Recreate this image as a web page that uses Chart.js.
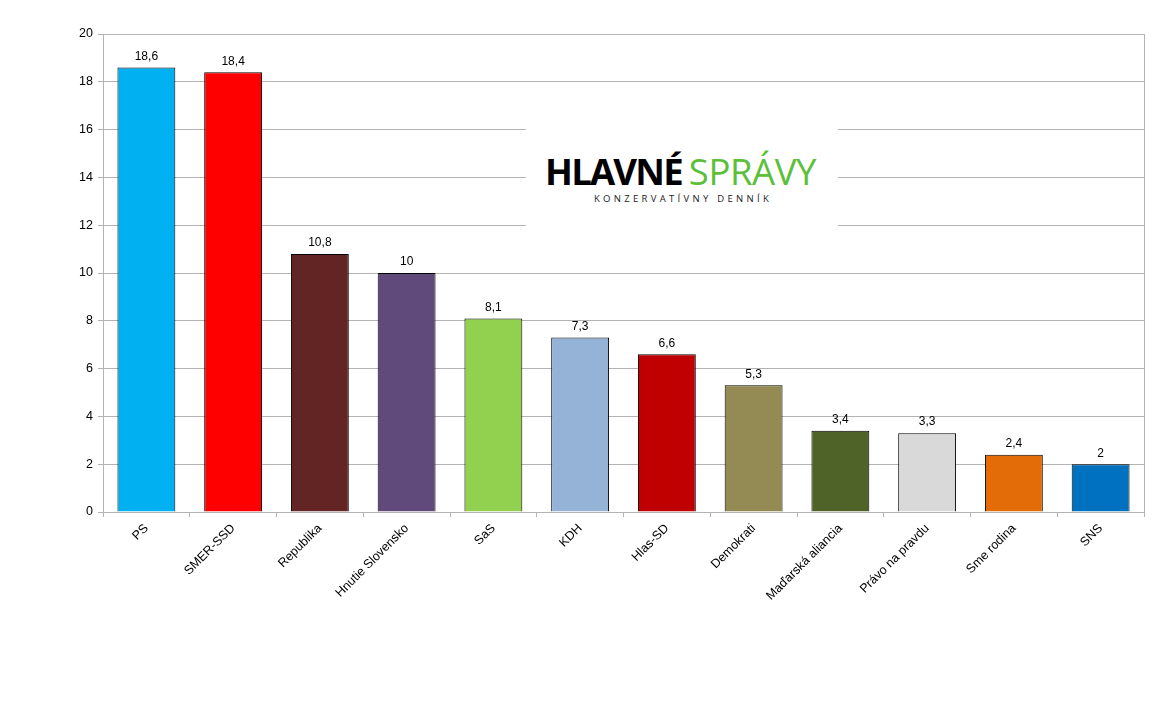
<!DOCTYPE html>
<html>
<head>
<meta charset="utf-8">
<script src="https://cdn.jsdelivr.net/npm/chart.js@4/dist/chart.umd.min.js"></script>
<style>
html,body{margin:0;padding:0;background:#fff;}
#wrap{position:relative;width:1161px;height:705px;}
#logo{position:absolute;left:526px;top:96px;width:312px;height:154px;background:#fff;font-family:"Open Sans",sans-serif;}
#l1{position:absolute;left:19px;top:55px;white-space:nowrap;font-size:36.5px;line-height:40px;}
#l1 .a{font-weight:700;color:#000;letter-spacing:-1.8px;}
#l1 .b{font-weight:400;color:#5cbf3a;letter-spacing:-0.4px;margin-left:7px;}
#l2{position:absolute;left:68px;top:96px;white-space:nowrap;font-size:9.5px;letter-spacing:3.3px;color:#222;}
</style>
</head>
<body>
<div id="wrap">
<canvas id="c" width="1161" height="705"></canvas>
<div id="logo"><div id="l1"><span class="a">HLAVNÉ</span><span class="b">SPRÁVY</span></div><div id="l2">KONZERVATÍVNY DENNÍK</div></div>
</div>
<script>
const categories = ["PS","SMER-SSD","Republika","Hnutie Slovensko","SaS","KDH","Hlas-SD","Demokrati","Maďarská aliancia","Právo na pravdu","Sme rodina","SNS"];
const values = [18.6,18.4,10.8,10,8.1,7.3,6.6,5.3,3.4,3.3,2.4,2];
const colors = ["#00b0f0","#ff0000","#632523","#604a7b","#92d050","#95b3d7","#c00000","#948a54","#4f6228","#d9d9d9","#e36c09","#0070c0"];
const yTicks = [0,2,4,6,8,10,12,14,16,18,20];

const valueLabels = {
  id:'valueLabels',
  afterDatasetsDraw(chart){
    const ctx = chart.ctx;
    const meta = chart.getDatasetMeta(0);
    ctx.save();
    ctx.font = '12px "Liberation Sans", Arial, sans-serif';
    ctx.fillStyle = '#000';
    ctx.textAlign = 'center';
    ctx.textBaseline = 'bottom';
    meta.data.forEach((bar,i)=>{
      ctx.fillText(String(values[i]).replace('.',','), bar.x, bar.y - 5);
    });
    ctx.restore();
  }
};
const frame = {
  id:'frame',
  beforeDatasetsDraw(chart){
    const a = chart.chartArea, ctx = chart.ctx;
    ctx.save();
    ctx.strokeStyle = '#b3b3b3';
    ctx.lineWidth = 1;
    ctx.beginPath();
    ctx.moveTo(Math.round(a.right)+0.5, a.top);
    ctx.lineTo(Math.round(a.right)+0.5, a.bottom);
    ctx.stroke();
    ctx.restore();
  }
};

new Chart(document.getElementById('c'), {
  type:'bar',
  data:{labels:categories, datasets:[{data:values, backgroundColor:colors, borderColor:'#000', borderWidth:1, barPercentage:0.667, categoryPercentage:1}]},
  options:{
    responsive:false, animation:false,
    layout:{padding:{left:0,top:34,right:17,bottom:0}},
    plugins:{legend:{display:false}, tooltip:{enabled:false}},
    scales:{
      x:{
        grid:{display:true, drawOnChartArea:false, offset:true, tickLength:5, color:'#b3b3b3'},
        border:{color:'#b3b3b3'},
        ticks:{maxRotation:45, minRotation:45, color:'#000', font:{family:'"Liberation Sans", Arial, sans-serif', size:12.5}, padding:4},
        afterFit(s){ s.height = 193; }
      },
      y:{
        min:0, max:20,
        afterBuildTicks(s){ s.ticks = yTicks.map(v=>({value:v})); },
        grid:{color:'#b3b3b3', tickLength:5},
        border:{color:'#b3b3b3'},
        ticks:{color:'#000', font:{family:'"Liberation Sans", Arial, sans-serif', size:12.5}, padding:5},
        afterFit(s){ s.width = 103; }
      }
    }
  },
  plugins:[valueLabels, frame]
});
</script>
</body>
</html>
